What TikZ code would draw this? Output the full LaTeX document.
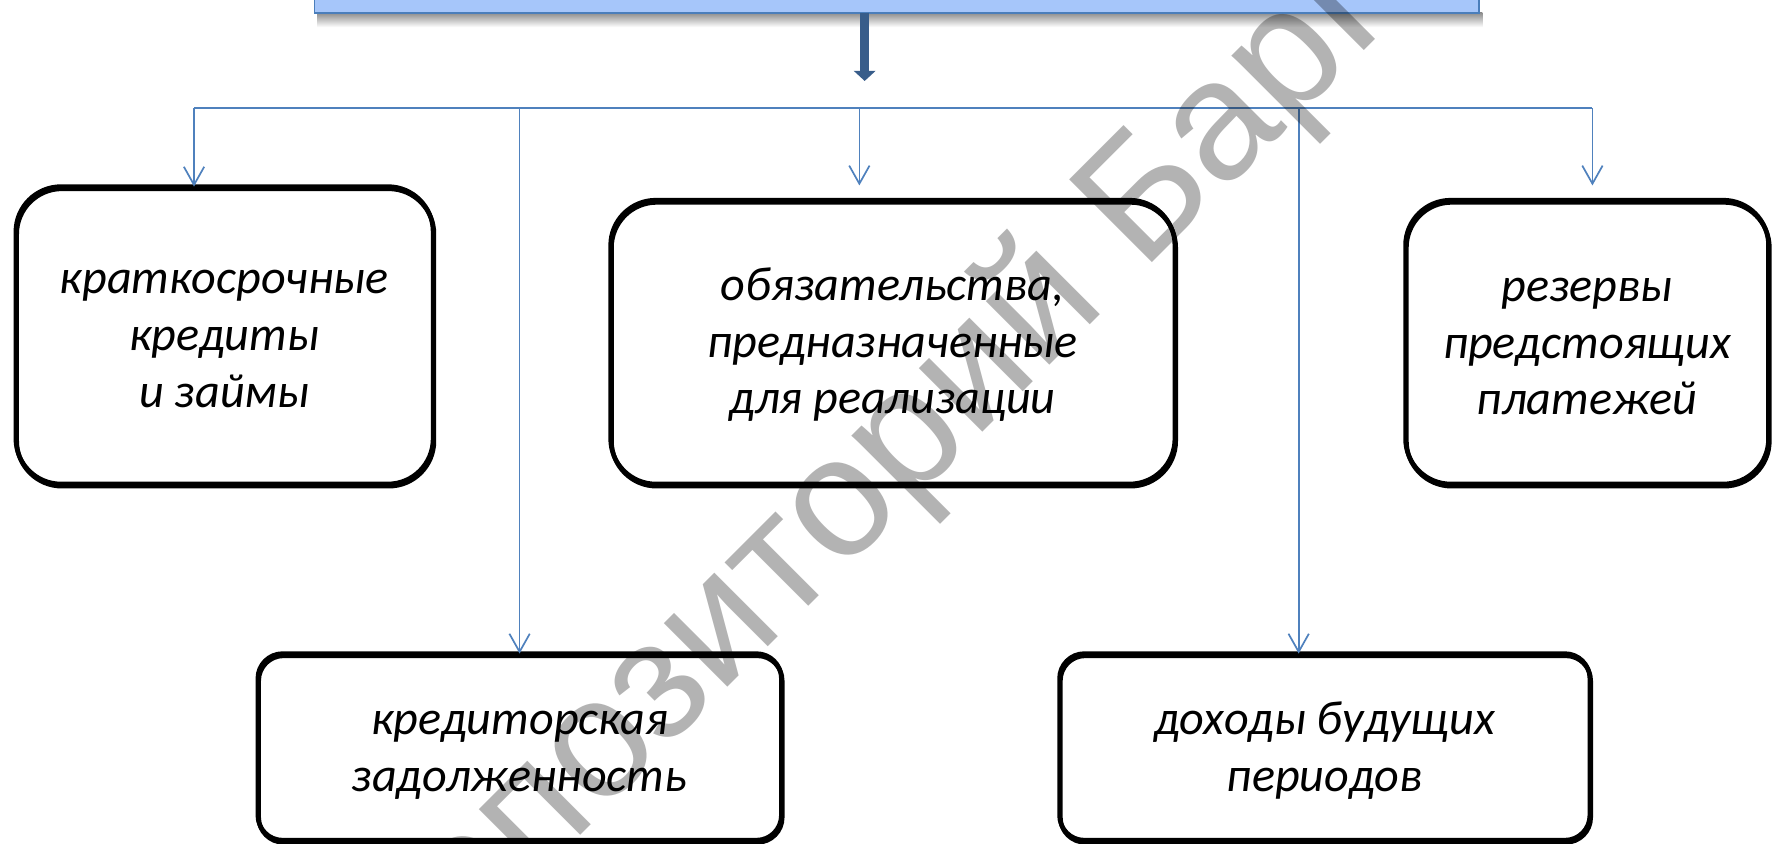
\documentclass[tikz,border=0pt]{standalone}
\usepackage{fontspec}
\setmainfont{Carlito}
\newfontfamily\wmfont{Liberation Sans}
\usetikzlibrary{arrows.meta,calc}
\definecolor{topfill}{RGB}{166,198,250}
\definecolor{topline}{RGB}{74,126,187}
\definecolor{linkblue}{RGB}{79,129,189}
\definecolor{thickblue}{RGB}{56,93,138}
\definecolor{wmgray}{RGB}{179,179,179}
\begin{document}
\begin{tikzpicture}[x=1pt,y=-1pt,
  box/.style={draw=black, line width=4pt, rectangle, outer sep=0pt, inner sep=0pt,
    align=center, font=\fontsize{42.6}{50}\selectfont\itshape, text depth=0pt},
  bigbox/.style={box, rounded corners=40pt},
  smallbox/.style={box, rounded corners=22pt},
  link/.style={draw=linkblue, line width=1.5pt},
  linkarrow/.style={link, -{Straight Barb[length=16pt,width=18pt]}},
  wm/.style={text=wmgray, inner sep=0pt, font=\wmfont\fontsize{150.4}{150}\selectfont}
]
\useasboundingbox (0,0) rectangle (1568,745.6);
\clip (0,0) rectangle (1568,745.6);
\fill[white] (0,0) rectangle (1568,745.6);

% top box with its shadow
\shade[top color=black!45, bottom color=white] (281,11.2) rectangle (1311,24);
\node[draw=topline, fill=topfill, line width=1.5pt, minimum width=1030pt, minimum height=60pt,
  inner sep=0pt, outer sep=0pt, anchor=south] (top) at (793,11.2) {};

% boxes
\node[bigbox, minimum width=369pt, minimum height=263pt, text height=127pt]
  (b1) at (198.5,296.5) {краткосрочные\\кредиты\\и займы};
\node[bigbox, minimum width=499pt, minimum height=251pt, text height=127pt]
  (b2) at (789.5,302.5) {обязательства,\\предназначенные\\для реализации};
\node[bigbox, minimum width=321pt, minimum height=251pt, text height=129pt]
  (b3) at (1403.5,302.5) {резервы\\предстоящих\\платежей};
\node[smallbox, minimum width=463pt, minimum height=165pt, text height=79pt]
  (b4) at (459.5,660.5) {кредиторская\\задолженность};
\node[smallbox, minimum width=469pt, minimum height=165pt, text height=79pt]
  (b5) at (1171.5,660.5) {доходы будущих\\периодов};

% shadow copies of the box outlines
\foreach \b/\r in {b1/40,b2/40,b3/40,b4/22,b5/22}{
  \draw[line width=4pt, rounded corners=\r pt]
    ([shift={(0.8,2)}]\b.south west) rectangle ([shift={(0.8,2)}]\b.north east);
}

% thick arrow from the top box
\coordinate (tA) at (764.7,71.6);
\draw[thickblue, line width=8pt, -{Triangle[length=9pt,width=19pt]}] (top.south -| tA) -- (tA);

% distribution line
\coordinate (j1) at (171.6,95.8);
\coordinate (j2) at (459.5,95.8);
\coordinate (j3) at (760,95.8);
\coordinate (j4) at (1148.5,95.8);
\coordinate (j5) at (1408.3,95.8);
\draw[link] (j1) -- (j5);
\draw[linkarrow] (j1) -- (j1 |- b1.north);
\draw[linkarrow] (j2) -- (j2 |- b4.north);
\draw[linkarrow, shorten >=13pt] (j3) -- (j3 |- b2.north);
\draw[linkarrow] (j4) -- (j4 |- b5.north);
\draw[linkarrow, shorten >=13pt] (j5) -- (j5 |- b3.north);

% watermark
\begin{scope}[blend mode=multiply]
\node[wm, rotate=45, anchor=base west] (wmk) at (346.7,904.8) {Репозиторий БарГУ};
\end{scope}
\end{tikzpicture}
\end{document}
